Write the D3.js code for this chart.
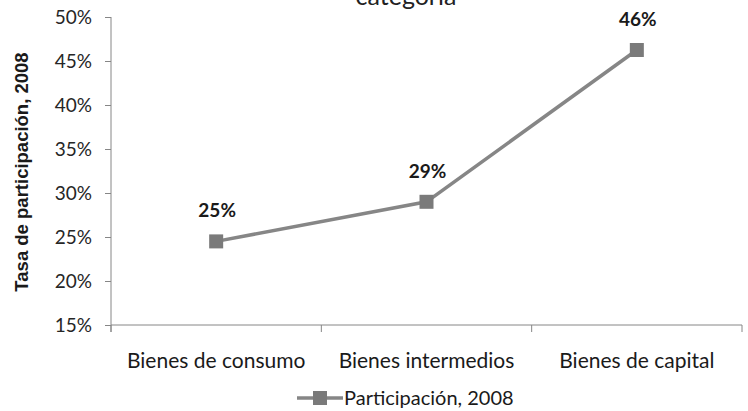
<!DOCTYPE html>
<html>
<head>
<meta charset="utf-8">
<script src="https://cdn.jsdelivr.net/npm/d3@7"></script>
<style>
  body { margin: 0; background: #fff; }
  svg { display: block; font-family: Lato, "Open Sans", sans-serif; }
</style>
</head>
<body>
<svg width="748" height="411"></svg>
<script>
// Data
var categories = ["Bienes de consumo", "Bienes intermedios", "Bienes de capital"];
var values = [0.245, 0.29, 0.4625];
var valueLabels = ["25%", "29%", "46%"];
var yTicks = [0.15, 0.20, 0.25, 0.30, 0.35, 0.40, 0.45, 0.50];
var seriesName = "Participación, 2008";

var svg = d3.select("svg");

// Scales
var x = d3.scaleBand().domain(categories).range([111, 742]);
var y = d3.scaleLinear().domain([0.15, 0.50]).range([325, 17]);
function cx(c) { return x(c) + x.bandwidth() / 2; }

// Title (cut off at the top, as in the original)
svg.append("text")
    .attr("x", 406).attr("y", 5)
    .attr("text-anchor", "middle")
    .attr("font-size", 25)
    .attr("fill", "#222")
    .text("categoría");

// Y axis
var yAxis = svg.append("g")
    .attr("transform", "translate(111,0)")
    .call(d3.axisLeft(y).tickValues(yTicks).tickSize(6).tickPadding(13)
      .tickFormat(d3.format(".0%")));
yAxis.select(".domain").attr("stroke", "#868686").attr("d", "M0,17V332");
yAxis.selectAll(".tick line").attr("stroke", "#868686");
yAxis.selectAll(".tick text")
    .attr("font-size", 19)
    .attr("font-family", "Lato, sans-serif")
    .attr("fill", "#262626");

// X axis
var xAxis = svg.append("g")
    .attr("transform", "translate(0,325)")
    .call(d3.axisBottom(x).tickSize(0).tickPadding(28));
xAxis.select(".domain").attr("stroke", "#868686").attr("d", "M111,0H742");
xAxis.selectAll(".tick text")
    .attr("font-size", 21)
    .attr("font-family", "Lato, sans-serif")
    .attr("fill", "#1a1a1a");
// category separator ticks
var bounds = categories.map(function(c) { return x(c); }).concat([x.range()[1]]);
xAxis.selectAll(".sep")
    .data(bounds)
  .enter().append("line")
    .attr("class", "sep")
    .attr("x1", function(d) { return d; })
    .attr("x2", function(d) { return d; })
    .attr("y1", 0).attr("y2", 7)
    .attr("stroke", "#868686");

// Y axis title
svg.append("text")
    .attr("transform", "translate(28,172) rotate(-90)")
    .attr("text-anchor", "middle")
    .attr("font-family", "'Liberation Sans', Arial, sans-serif")
    .attr("font-size", 18.5)
    .attr("font-weight", "bold")
    .attr("fill", "#1a1a1a")
    .text("Tasa de participación, 2008");

// Line
var line = d3.line()
    .x(function(d, i) { return cx(categories[i]); })
    .y(function(d) { return y(d); });

svg.append("path")
    .datum(values)
    .attr("d", line)
    .attr("fill", "none")
    .attr("stroke", "#868686")
    .attr("stroke-width", 3.5);

// Markers
svg.selectAll(".marker")
    .data(values)
  .enter().append("rect")
    .attr("class", "marker")
    .attr("x", function(d, i) { return cx(categories[i]) - 7; })
    .attr("y", function(d) { return y(d) - 7; })
    .attr("width", 14).attr("height", 14)
    .attr("fill", "#7a7a7a");

// Data labels
svg.selectAll(".label")
    .data(values)
  .enter().append("text")
    .attr("class", "label")
    .attr("x", function(d, i) { return cx(categories[i]) + 1; })
    .attr("y", function(d) { return y(d) - 24; })
    .attr("text-anchor", "middle")
    .attr("font-size", 19)
    .attr("font-weight", "bold")
    .attr("fill", "#1a1a1a")
    .text(function(d, i) { return valueLabels[i]; });

// Legend
var legend = svg.append("g").attr("transform", "translate(297,398)");
legend.append("line")
    .attr("x1", 0).attr("x2", 46).attr("y1", 0).attr("y2", 0)
    .attr("stroke", "#868686").attr("stroke-width", 3.5);
legend.append("rect")
    .attr("x", 16).attr("y", -7).attr("width", 14).attr("height", 14)
    .attr("fill", "#7a7a7a");
legend.append("text")
    .attr("x", 47).attr("y", 7)
    .attr("font-size", 20)
    .attr("fill", "#1a1a1a")
    .text(seriesName);
</script>
</body>
</html>
